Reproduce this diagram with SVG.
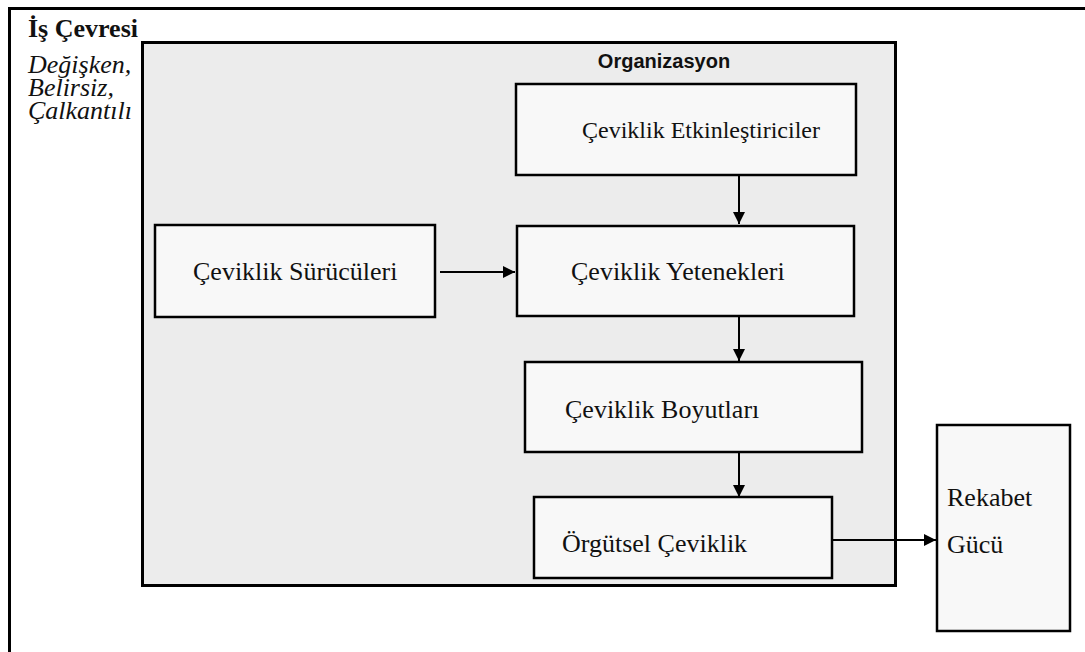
<svg xmlns="http://www.w3.org/2000/svg" width="1085" height="652" viewBox="0 0 1085 652">
<style>
.box{fill:#f8f8f8;stroke:#000;stroke-width:2.5}
.t{font-family:"Liberation Serif","Times New Roman",serif;font-size:26px;fill:#111}
.e{stroke:#000;stroke-width:2;fill:none}
</style>
<defs>
<marker id="ah" viewBox="0 0 12 12" refX="12" refY="6" markerWidth="12" markerHeight="12" markerUnits="userSpaceOnUse" orient="auto">
<path d="M0,0 L12,6 L0,12 Z" fill="#000"/>
</marker>
</defs>
<rect width="1085" height="652" fill="#fff"/>
<g id="env">
<rect x="9.5" y="8.5" width="1090" height="660" fill="#fff" stroke="#000" stroke-width="3"/>
<text x="28" y="37" font-family="Liberation Serif,serif" font-size="26" font-weight="bold" fill="#111">İş Çevresi</text>
<text font-family="Liberation Serif,serif" font-size="26" font-style="italic" fill="#111"><tspan x="28" y="73">Değişken,</tspan><tspan x="28" y="96">Belirsiz,</tspan><tspan x="28" y="119">Çalkantılı</tspan></text>
</g>
<g id="org">
<rect x="142.5" y="42.5" width="753" height="543" fill="#ececec" stroke="#000" stroke-width="3"/>
<text x="664" y="68" text-anchor="middle" font-family="Liberation Sans,Arial,sans-serif" font-size="20" font-weight="bold" fill="#111">Organizasyon</text>
</g>
<g id="etkin">
<rect class="box" x="516" y="84" width="340" height="91"/>
<text class="t" x="582" y="138" style="font-size:24px">Çeviklik Etkinleştiriciler</text>
</g>
<g id="surucu">
<rect class="box" x="155" y="225" width="280" height="92"/>
<text class="t" x="193" y="280">Çeviklik Sürücüleri</text>
</g>
<g id="yetenek">
<rect class="box" x="517" y="226" width="337" height="90"/>
<text class="t" x="571" y="280">Çeviklik Yetenekleri</text>
</g>
<g id="boyut">
<rect class="box" x="525" y="362" width="337" height="90"/>
<text class="t" x="565" y="418">Çeviklik Boyutları</text>
</g>
<g id="orgutsel">
<rect class="box" x="534" y="497" width="298" height="81"/>
<text class="t" x="562" y="552">Örgütsel Çeviklik</text>
</g>
<g id="rekabet">
<rect class="box" x="937" y="425" width="133" height="206"/>
<text class="t" x="947" y="506">Rekabet</text>
<text class="t" x="947" y="553">Gücü</text>
</g>
<g id="connectors">
<line class="e" x1="739" y1="175" x2="739" y2="224" marker-end="url(#ah)"/>
<line class="e" x1="440" y1="272" x2="515" y2="272" marker-end="url(#ah)"/>
<line class="e" x1="739" y1="316" x2="739" y2="361" marker-end="url(#ah)"/>
<line class="e" x1="739" y1="452" x2="739" y2="497" marker-end="url(#ah)"/>
<line class="e" x1="832" y1="540" x2="936" y2="540" marker-end="url(#ah)"/>
</g>
</svg>
